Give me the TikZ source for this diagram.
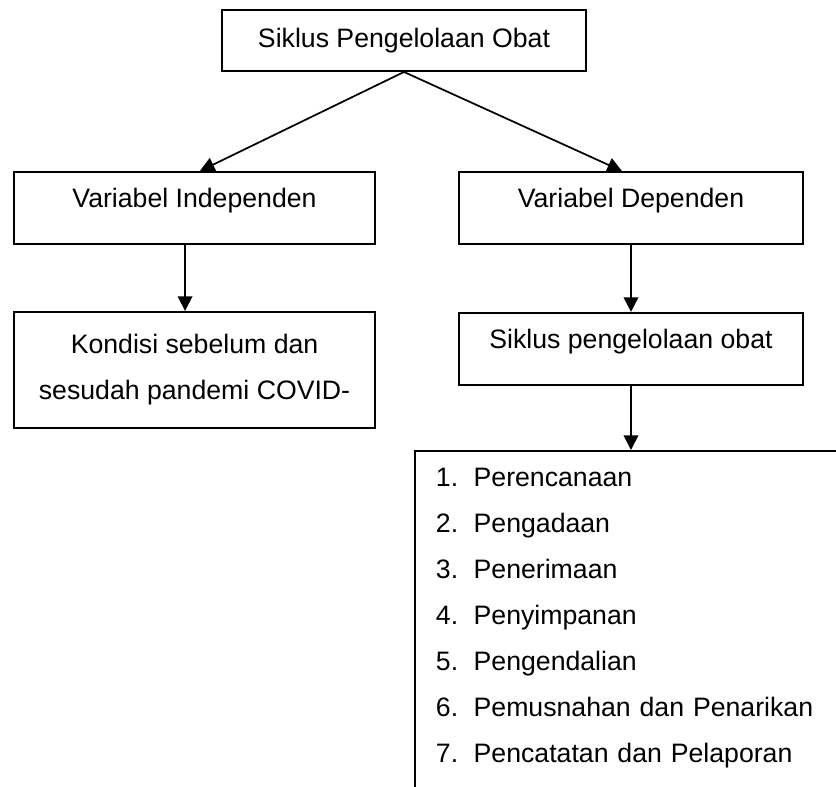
\documentclass[tikz,border=0pt]{standalone}
\usepackage{fontspec}
\setmainfont{Liberation Sans}
\usetikzlibrary{positioning,arrows.meta}

\begin{document}
\begin{tikzpicture}[x=1pt, y=1pt,
  box/.style={draw, line width=1.4pt, align=center, minimum height=54pt,
              inner sep=0pt, font=\fontsize{20pt}{34.4pt}\selectfont},
  oneline/.style={text height=14.3pt, text depth=14.3pt},
  arr/.style={-{Triangle[length=11pt, width=11pt]}, line width=1.3pt},
  listbox/.style={draw, line width=1.4pt, anchor=north west, align=left,
              text width=340pt, inner xsep=15.75pt, inner ysep=13.2pt,
              font=\fontsize{20pt}{34.4pt}\selectfont}
]
  \useasboundingbox (0,0) rectangle (627,-590.25);
  \clip (0,0) rectangle (627,-590.25);

  % Top: the cycle
  \node[box, oneline, minimum width=273pt, minimum height=45.75pt,
        text depth=4.55pt] (siklus) at (303,-30.4) {Siklus Pengelolaan Obat};

  % Two variables
  \node[box, oneline, minimum width=270.75pt] (indep) at (145.9,-156)
    {Variabel Independen};
  \node[box, oneline, minimum width=258pt] (dep) at (473.25,-156)
    {Variabel Dependen};
  \draw[arr] (siklus.south) -- ([xshift=4pt]indep.north);
  \draw[arr] (siklus.south) -- ([xshift=-6.75pt]dep.north);

  % Independent branch
  \node[box, minimum width=270.75pt, minimum height=87pt,
        below=49.5pt of indep] (kondisi)
    {Kondisi sebelum dan\\sesudah pandemi COVID-};
  \draw[arr] ([xshift=-7.1pt]indep.south) -- ([xshift=-7.1pt]kondisi.north);

  % Dependent branch
  \node[box, oneline, minimum width=258pt, below=50.25pt of dep] (pengelolaan)
    {Siklus pengelolaan obat};
  \draw[arr] (dep) -- (pengelolaan);

  % Steps of the cycle (box runs off the page)
  \node[listbox] (tahap) at (310.5,-337.5)
    {\makebox[28.3pt][l]{1.}Perencanaan\\
     \makebox[28.3pt][l]{2.}Pengadaan\\
     \makebox[28.3pt][l]{3.}Penerimaan\\
     \makebox[28.3pt][l]{4.}Penyimpanan\\
     \makebox[28.3pt][l]{5.}Pengendalian\\
     \makebox[28.3pt][l]{6.}Pemusnahan dan Penarikan\\
     \makebox[28.3pt][l]{7.}Pencatatan dan Pelaporan\\
     \mbox{}\\ \mbox{}};
  \draw[arr] (pengelolaan) -- (pengelolaan.south |- tahap.north);
\end{tikzpicture}
\end{document}
